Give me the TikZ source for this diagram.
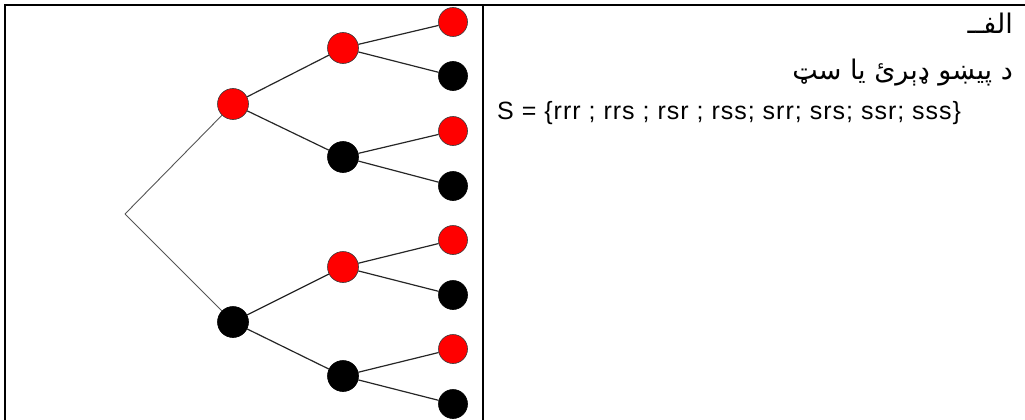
\documentclass[tikz,border=0pt]{standalone}
\usepackage{fontspec}
\setmainfont{Liberation Sans}
\newfontfamily\pashtofont[Script=Arabic]{DejaVu Sans}
\TeXXeTstate=1
\usepackage{xcolor}
\usepackage{tikz}
\usetikzlibrary{
  positioning,
  calc
}
\definecolor{BallRed}{HTML}{FF0000}
\definecolor{BallEdge}{HTML}{3A3A3A}
\definecolor{BranchGray}{HTML}{555555}
\tikzset{
  ball/.style={
    circle,
    draw=BallEdge,
    line width=0.6pt,
    inner sep=0pt,
    minimum size=31pt
  },
  redball/.style={
    ball,
    fill=BallRed
  },
  blackball/.style={
    ball,
    fill=black,
    draw=black
  },
  leafball/.style={
    minimum size=29pt
  },
  branch/.style={
    line width=1.2pt,
    draw=black!85
  },
  rootbranch/.style={
    line width=0.9pt,
    draw=BranchGray
  },
  frame/.style={
    line width=2pt,
    draw=black
  },
  pashto/.style={
    anchor=base east,
    inner sep=0pt,
    font=\pashtofont\fontsize{27}{30}\selectfont
  },
  settext/.style={
    anchor=base west,
    inner sep=0pt,
    font=\addfontfeatures{LetterSpace=4}\fontsize{25}{28}\selectfont
  }
}

\begin{document}
\begin{tikzpicture}[x=1pt,y=-1pt]

  \useasboundingbox (0,0) rectangle (1025,420);

  % frame of the table
  \draw[frame] (1025,5) -- (5,5) -- (5,420);
  \draw[frame] (483,5) -- (483,420);

  % tree
  \coordinate (root) at (125,214);

  \node[redball] (r) at (233,104) {};
  \node[blackball] (s) at (233,322) {};

  \node[redball] (rr) at (343,48) {};
  \node[blackball] (rs) at (343,157) {};
  \node[redball] (sr) at (343,267) {};
  \node[blackball] (ss) at (343,376) {};

  \node[redball,leafball] (rrr) at (453,22) {};
  \node[blackball,leafball] (rrs) at (453,76) {};
  \node[redball,leafball] (rsr) at (453,131) {};
  \node[blackball,leafball] (rss) at (453,186) {};
  \node[redball,leafball] (srr) at (453,240) {};
  \node[blackball,leafball] (srs) at (453,295) {};
  \node[redball,leafball] (ssr) at (453,349) {};
  \node[blackball,leafball] (sss) at (453,404) {};

  \draw[rootbranch] (root) -- (r);
  \draw[rootbranch] (root) -- (s);

  \draw[branch] (r) -- (rr);
  \draw[branch] (r) -- (rs);
  \draw[branch] (s) -- (sr);
  \draw[branch] (s) -- (ss);

  \draw[branch] (rr) -- (rrr);
  \draw[branch] (rr) -- (rrs);
  \draw[branch] (rs) -- (rsr);
  \draw[branch] (rs) -- (rss);
  \draw[branch] (sr) -- (srr);
  \draw[branch] (sr) -- (srs);
  \draw[branch] (ss) -- (ssr);
  \draw[branch] (ss) -- (sss);

  % text on the right
  \node[pashto] (heading) at (1013,34) {
    \beginR الفــ\endR
  };

  \node[pashto] (caption) at (1013,80) {
    \beginR د پیښو ډېرئ یا سټ\endR
  };

  \node[settext] (sampleset) at (497,119) {
    S = \{rrr ; rrs ; rsr ; rss; srr; srs; ssr; sss\}
  };

\end{tikzpicture}
\end{document}
